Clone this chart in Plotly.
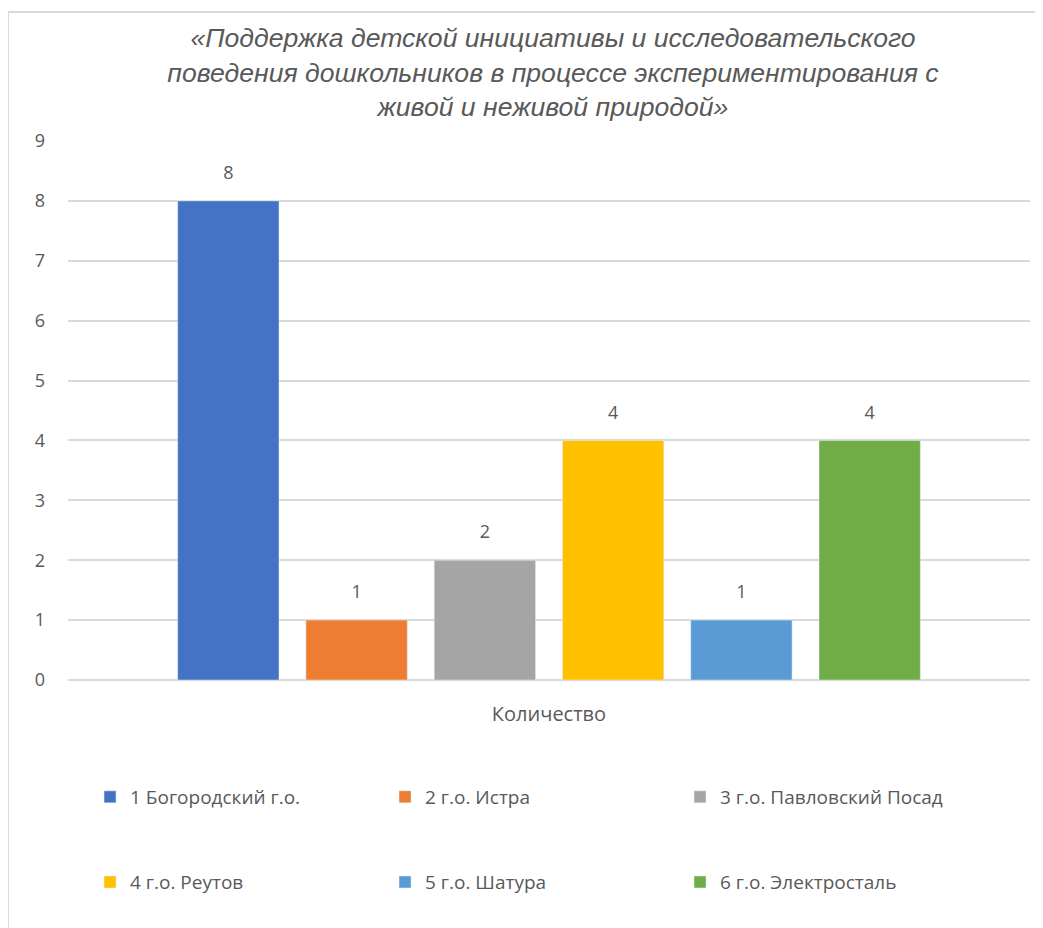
import plotly.graph_objects as go

title_lines = [
    "«Поддержка детской инициативы и исследовательского",
    "поведения дошкольников в процессе экспериментирования с",
    "живой и неживой природой»",
]
category = ["Количество"]
series_names = [
    "1 Богородский г.о.",
    "2 г.о. Истра",
    "3 г.о. Павловский Посад",
    "4 г.о. Реутов",
    "5 г.о. Шатура",
    "6 г.о. Электросталь",
]
series_values = [8, 1, 2, 4, 1, 4]
colors = ["#4472C4", "#ED7D31", "#A5A5A5", "#FFC000", "#5B9BD5", "#70AD47"]

fig = go.Figure()
for i, (name, val, col) in enumerate(zip(series_names, series_values, colors)):
    fig.add_trace(go.Bar(
        x=category,
        y=[val],
        name=name,
        marker_color=col,
        offsetgroup=str(i),
        legend="legend" if i < 3 else "legend2",
    ))
    # подписи значений над столбцами
    fig.add_trace(go.Scatter(
        x=category,
        y=[val],
        mode="markers+text",
        text=[val],
        textposition="top center",
        textfont=dict(family="Open Sans", size=18, color="#595959"),
        marker=dict(size=26, opacity=0),
        offsetgroup=str(i),
        showlegend=False,
        hoverinfo="skip",
        cliponaxis=False,
    ))

legend_style = dict(
    orientation="h",
    xanchor="left",
    yanchor="middle",
    x=0.0229,
    font=dict(family="Open Sans", size=19, color="#595959"),
    entrywidth=250,
    entrywidthmode="pixels",
    bgcolor="rgba(0,0,0,0)",
)

fig.update_layout(
    width=1043,
    height=928,
    margin=dict(l=60, r=21, t=133, b=256),
    paper_bgcolor="white",
    plot_bgcolor="white",
    barmode="group",
    scattermode="group",
    bargap=0.2,
    scattergap=0.2,
    bargroupgap=0.21,
    title=dict(
        text="<br>".join(title_lines),
        x=0.5225,
        xanchor="center",
        y=0.958,
        yanchor="top",
        font=dict(family="Liberation Sans", size=26.6, color="#595959", style="italic"),
    ),
    xaxis=dict(
        showgrid=False,
        showline=False,
        ticks="",
        ticklabelstandoff=20,
        tickfont=dict(family="Open Sans", size=20, color="#595959"),
    ),
    yaxis=dict(
        range=[0, 9],
        dtick=1,
        showgrid=True,
        gridcolor="#D9D9D9",
        gridwidth=1.5,
        zeroline=True,
        zerolinecolor="#D9D9D9",
        zerolinewidth=1.5,
        ticks="",
        ticklabelstandoff=22,
        tickfont=dict(family="Open Sans", size=18, color="#595959"),
    ),
    legend=dict(legend_style, y=-0.217),
    legend2=dict(legend_style, y=-0.375),
    shapes=[
        dict(type="line", xref="paper", yref="paper", x0=-0.0624, x1=1.03, y0=1.2393, y1=1.2393,
             line=dict(color="#D9D9D9", width=2)),
        dict(type="line", xref="paper", yref="paper", x0=-0.0624, x1=-0.0624, y0=1.2393, y1=-0.47,
             line=dict(color="#D9D9D9", width=2)),
    ],
)

fig.write_html("out.html")
